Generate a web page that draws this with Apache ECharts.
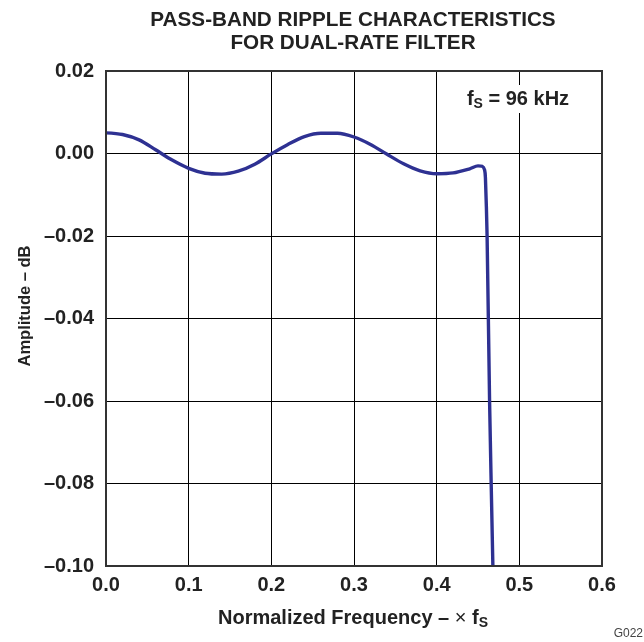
<!DOCTYPE html>
<html><head><meta charset="utf-8">
<script src="https://cdn.jsdelivr.net/npm/echarts@6/dist/echarts.min.js"></script>
<style>html,body{margin:0;padding:0;background:#fff}#c{width:644px;height:642px}</style>
</head><body><div id="c"></div>
<script>
const freq = [0, 0.02, 0.04, 0.06, 0.08, 0.10, 0.12, 0.14, 0.16, 0.18, 0.20, 0.22, 0.24, 0.26, 0.28, 0.30, 0.32, 0.34, 0.36, 0.38, 0.40, 0.42, 0.44, 0.45, 0.455, 0.458, 0.459, 0.461, 0.464, 0.468];
const amplitude = [0.0050, 0.0046, 0.0033, 0.0009, -0.0016, -0.0036, -0.0048, -0.0050, -0.0043, -0.0026, -0.0001, 0.0022, 0.0041, 0.0049, 0.0049, 0.0040, 0.0022, -0.0002, -0.0025, -0.0042, -0.0049, -0.0047, -0.0037, -0.0030, -0.0031, -0.0040, -0.0060, -0.0200, -0.0600, -0.1000];
const xTicks = ['0.0','0.1','0.2','0.3','0.4','0.5','0.6'];
const yTicks = ['0.02','0.00','–0.02','–0.04','–0.06','–0.08','–0.10'];
const titleLines = ['PASS-BAND RIPPLE CHARACTERISTICS', 'FOR DUAL-RATE FILTER'];

const FONT = '"Liberation Sans", Arial, sans-serif';
const chart = echarts.init(document.getElementById('c'));
const yMap = {}; [0.02,0,-0.02,-0.04,-0.06,-0.08,-0.1].forEach((v,i)=>{yMap[v.toFixed(2)] = yTicks[i];});
chart.setOption({
  animation: false,
  backgroundColor: '#fff',
  grid: {left: 106, right: 42, top: 71, bottom: 76},
  xAxis: {
    type: 'value', min: 0, max: 0.6, interval: 0.1,
    axisLine: {show: false}, axisTick: {show: false},
    splitLine: {show: true, lineStyle: {color: '#000', width: 1}},
    axisLabel: {margin: 9, fontFamily: FONT, fontWeight: 'bold', fontSize: 20, color: '#222',
      formatter: v => xTicks[Math.round(v*10)]}
  },
  yAxis: {
    type: 'value', min: -0.1, max: 0.02, interval: 0.02,
    axisLine: {show: false}, axisTick: {show: false},
    splitLine: {show: true, lineStyle: {color: '#000', width: 1}},
    axisLabel: {margin: 12, fontFamily: FONT, fontWeight: 'bold', fontSize: 20, color: '#222',
      formatter: v => yMap[(Math.round(v*100)/100).toFixed(2)] || ''}
  },
  series: [{
    type: 'line', showSymbol: false, smooth: 0.3,
    data: freq.map((f,i)=>[f, amplitude[i]]),
    lineStyle: {color: '#2e3192', width: 3.4},
    z: 5
  }],
  graphic: [
    {type: 'rect', shape: {x: 106, y: 71, width: 496, height: 495}, style: {fill: 'none', stroke: '#333', lineWidth: 2}, z: 100},
    {type: 'text', x: 353, y: 20.5, z: 50, style: {
      text: titleLines[0], fontFamily: FONT, fontWeight: 'bold', fontSize: 20.7, fill: '#222', align: 'center', verticalAlign: 'middle'}},
    {type: 'text', x: 353, y: 43, z: 50, style: {
      text: titleLines[1], fontFamily: FONT, fontWeight: 'bold', fontSize: 20.7, fill: '#222', align: 'center', verticalAlign: 'middle'}},
    {type: 'text', x: 518, y: 99, z: 50, style: {
      text: '{a|f}{s|S}{a| = 96 kHz}', backgroundColor: '#fff', padding: [2, 4], align: 'center', verticalAlign: 'middle',
      rich: {a: {fontFamily: FONT, fontWeight: 'bold', fontSize: 20, fill: '#222'},
             s: {fontFamily: FONT, fontWeight: 'bold', fontSize: 14, fill: '#222', padding: [10,0,0,0]}}
    }},
    {type: 'text', x: 25, y: 306, rotation: Math.PI/2, z: 50, style: {
      text: 'Amplitude – dB', fontFamily: FONT, fontWeight: 'bold', fontSize: 16.5, fill: '#222', align: 'center', verticalAlign: 'middle'
    }},
    {type: 'text', x: 353, y: 618, z: 50, style: {
      text: '{a|Normalized Frequency – }{n|×}{a| f}{s|S}', align: 'center', verticalAlign: 'middle',
      rich: {a: {fontFamily: FONT, fontWeight: 'bold', fontSize: 20, fill: '#222'},
             n: {fontFamily: FONT, fontSize: 20, fill: '#222'},
             s: {fontFamily: FONT, fontWeight: 'bold', fontSize: 14, fill: '#222', padding: [10,0,0,0]}}
    }},
    {type: 'text', x: 643, y: 634, z: 50, style: {
      text: 'G022', fontFamily: FONT, fontSize: 12, fill: '#444', align: 'right', verticalAlign: 'middle'
    }}
  ]
});
</script></body></html>
